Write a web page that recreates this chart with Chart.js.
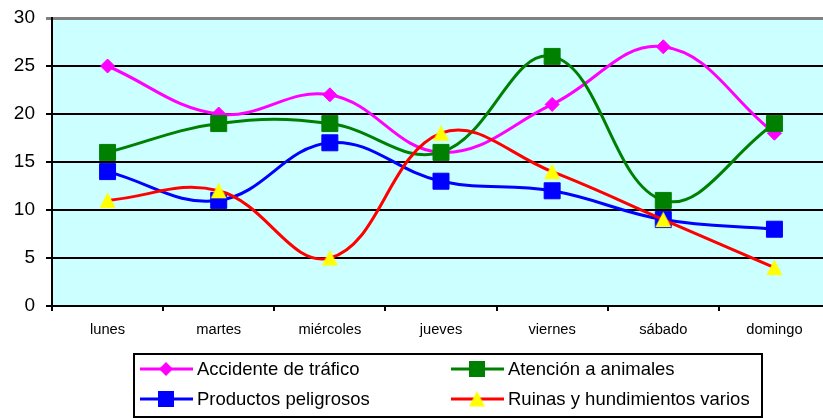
<!DOCTYPE html>
<html>
<head>
<meta charset="utf-8">
<script src="https://cdn.jsdelivr.net/npm/chart.js@4"></script>
<style>
  html, body { margin: 0; padding: 0; background: #fff; overflow: hidden; }
  #wrap { width: 830px; height: 418px; }
</style>
</head>
<body>
<div id="wrap"><canvas id="myChart" width="830" height="418"></canvas></div>
<script>
const days = ['lunes', 'martes', 'miércoles', 'jueves', 'viernes', 'sábado', 'domingo'];

const accidentes = [25, 20, 22, 16, 21, 27, 18];
const animales = [16, 19, 19, 16, 26, 11, 19];
const peligrosos = [14, 11, 17, 13, 12, 9, 8];
const ruinas = [11, 12, 5, 18, 14, 9, 4];

const yTicks = [0, 5, 10, 15, 20, 25, 30];

const font = '"Liberation Sans", Arial, sans-serif';

// yellow triangle centred on its box, like the spreadsheet marker
const tri = document.createElement('canvas');
tri.width = 17;
tri.height = 17;
(() => {
  const c = tri.getContext('2d');
  c.fillStyle = '#FFFF00';
  c.beginPath();
  c.moveTo(8.5, 0.5);
  c.lineTo(16.5, 16);
  c.lineTo(0.5, 16);
  c.closePath();
  c.fill();
})();

// cyan plot background
const plotBg = {
  id: 'plotBg',
  beforeDraw(chart) {
    const a = chart.chartArea;
    const ctx = chart.ctx;
    ctx.save();
    ctx.fillStyle = '#CCFFFF';
    ctx.fillRect(a.left, a.top, a.right - a.left, a.bottom - a.top);
    ctx.restore();
  }
};

function marker(ctx, style, x, y, fill) {
  if (style instanceof HTMLCanvasElement) {
    ctx.drawImage(style, x - style.width / 2, y - style.height / 2);
    return;
  }
  ctx.fillStyle = fill;
  ctx.beginPath();
  if (style === 'rectRot') {
    ctx.moveTo(x, y - 7); ctx.lineTo(x + 7, y); ctx.lineTo(x, y + 7); ctx.lineTo(x - 7, y);
  } else {
    ctx.rect(x - 8, y - 8, 16, 16);
  }
  ctx.closePath();
  ctx.fill();
}

// boxed legend, two columns
const boxLegend = {
  id: 'boxLegend',
  afterDraw(chart) {
    const ctx = chart.ctx;
    ctx.save();
    ctx.strokeStyle = '#000';
    ctx.lineWidth = 2;
    ctx.strokeRect(134, 354, 628, 63);
    const cols = [140, 451];
    const rows = [369, 399];
    chart.data.datasets.forEach((ds, i) => {
      const x = cols[i % 2];
      const y = rows[Math.floor(i / 2)];
      ctx.strokeStyle = ds.borderColor;
      ctx.lineWidth = 3;
      ctx.beginPath();
      ctx.moveTo(x, y);
      ctx.lineTo(x + 53, y);
      ctx.stroke();
      marker(ctx, ds.pointStyle, x + 26, y, ds.pointBackgroundColor);
      ctx.fillStyle = '#000';
      ctx.font = '18.5px ' + font;
      ctx.textBaseline = 'middle';
      ctx.fillText(ds.label, x + 57, y + 1);
    });
    ctx.restore();
  }
};

const data = {
  labels: days,
  datasets: [
    {
      label: 'Accidente de tráfico',
      data: accidentes,
      borderColor: '#FF00FF',
      pointBackgroundColor: '#FF00FF',
      pointBorderColor: '#FF00FF',
      pointStyle: 'rectRot',
      pointRadius: 7,
      order: 4
    },
    {
      label: 'Atención a animales',
      data: animales,
      borderColor: '#008000',
      pointBackgroundColor: '#008000',
      pointBorderColor: '#008000',
      pointStyle: 'rect',
      pointRadius: 11.3,
      order: 3
    },
    {
      label: 'Productos peligrosos',
      data: peligrosos,
      borderColor: '#0000FF',
      pointBackgroundColor: '#0000FF',
      pointBorderColor: '#0000FF',
      pointStyle: 'rect',
      pointRadius: 11.3,
      order: 2
    },
    {
      label: 'Ruinas y hundimientos varios',
      data: ruinas,
      borderColor: '#FF0000',
      pointBackgroundColor: '#FFFF00',
      pointBorderColor: '#FFFF00',
      pointStyle: tri,
      pointRadius: 9,
      order: 1
    }
  ]
};

const config = {
  type: 'line',
  data,
  options: {
    responsive: false,
    animation: false,
    layout: { autoPadding: false, padding: { top: 18, left: 0, right: 0, bottom: 0 } },
    elements: {
      line: { borderWidth: 3, tension: 0.4, fill: false },
      point: { borderWidth: 1 }
    },
    plugins: {
      legend: { display: false },
      tooltip: { enabled: false }
    },
    scales: {
      x: {
        offset: true,
        grid: {
          offset: true,
          drawOnChartArea: false,
          drawTicks: true,
          tickLength: 5,
          color: '#000',
          lineWidth: 2
        },
        border: { color: '#000', width: 2 },
        ticks: {
          color: '#000',
          font: { family: font, size: 14.7 },
          padding: 10,
          maxRotation: 0
        },
        afterFit: s => {
          s.height = 112;
          s.paddingLeft = 0;
          s.paddingRight = 0;
        }
      },
      y: {
        min: 0,
        max: 30,
        afterBuildTicks: s => { s.ticks = yTicks.map(v => ({ value: v })); },
        grid: {
          color: c => (c.tick && c.tick.value === 30) ? '#808080' : '#000',
          lineWidth: c => (c.tick && c.tick.value === 30) ? 3 : 2,
          tickLength: 6
        },
        border: { color: '#000', width: 2 },
        ticks: {
          color: '#000',
          font: { family: font, size: 19 },
          padding: 11
        },
        afterFit: s => {
          s.width = 52;
          s.paddingTop = 0;
          s.paddingBottom = 0;
        }
      }
    }
  },
  plugins: [plotBg, boxLegend]
};

const myChart = new Chart(document.getElementById('myChart'), config);
</script>
</body>
</html>
